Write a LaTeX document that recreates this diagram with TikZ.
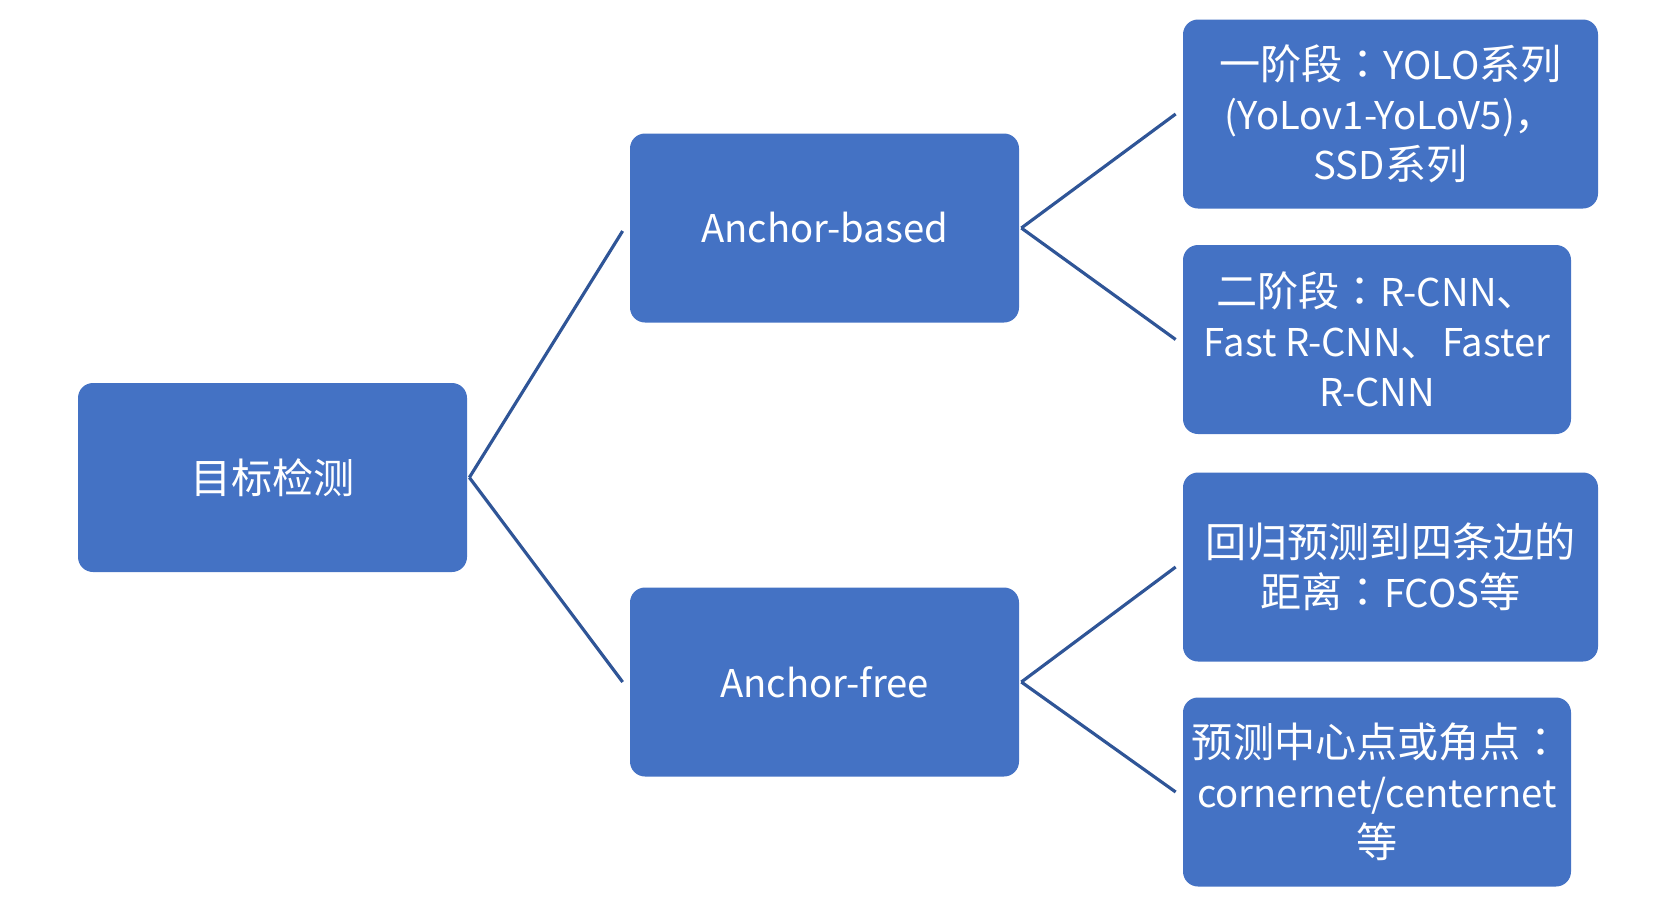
\documentclass[tikz,border=0pt]{standalone}
\usepackage{fontspec}
\setmainfont{Noto Sans CJK SC}
\newfontfamily\latfont[Scale=0.93]{Noto Sans CJK SC}
\newfontfamily\tcfont{Noto Sans CJK TC}
\newcommand{\lat}[1]{{\latfont #1}}
\newcommand{\cncolon}{{\tcfont ：}}
\definecolor{boxblue}{HTML}{4472C4}
\definecolor{lineblue}{HTML}{2F5597}
\begin{document}
\begin{tikzpicture}[
    box/.style={rectangle, rounded corners=0.3cm, fill=boxblue, text=white,
        minimum height=3.78cm, align=center, inner sep=0pt,
        font=\fontsize{23.4pt}{28.4pt}\selectfont},
    link/.style={draw=lineblue, line width=1.8pt}]
    \useasboundingbox (0,0) rectangle (33.36,-18.38);
    %Nodes
    \node[box, minimum width=7.78cm] at (5.45,-9.55) (det) {目标检测};
    \node[box, minimum width=7.78cm] at (16.49,-4.56) (ab) {\lat{Anchor-based}};
    \node[box, minimum width=7.78cm] at (16.49,-13.64) (af) {\lat{Anchor-free}};
    \node[box, minimum width=8.3cm] at (27.81,-2.28) (one) {一阶段\cncolon\lat{YOLO}系列\\\lat{(YoLov1-YoLoV5)}，\\\lat{SSD}系列};
    \node[box, minimum width=7.76cm] at (27.54,-6.79) (two) {二阶段\cncolon\lat{R-CNN}、\\\lat{Fast R-CNN}、\lat{Faster}\\\lat{R-CNN}};
    \node[box, minimum width=8.3cm] at (27.81,-11.34) (fcos) {回归预测到四条边的\\距离\cncolon\lat{FCOS}等};
    \node[box, minimum width=7.76cm] at (27.54,-15.84) (center) {预测中心点或角点\cncolon\\\lat{cornernet/centernet}\\等};

    %Lines
    \draw[link] ([xshift=0.04cm]det.east) -- ([xshift=-0.14cm, yshift=-0.06cm]ab.west);
    \draw[link] ([xshift=0.04cm]det.east) -- ([xshift=-0.14cm]af.west);
    \draw[link] ([xshift=0.04cm]ab.east) -- ([xshift=-0.14cm]one.west);
    \draw[link] ([xshift=0.04cm]ab.east) -- ([xshift=-0.14cm]two.west);
    \draw[link] ([xshift=0.04cm]af.east) -- ([xshift=-0.14cm]fcos.west);
    \draw[link] ([xshift=0.04cm]af.east) -- ([xshift=-0.14cm]center.west);
\end{tikzpicture}
\end{document}
